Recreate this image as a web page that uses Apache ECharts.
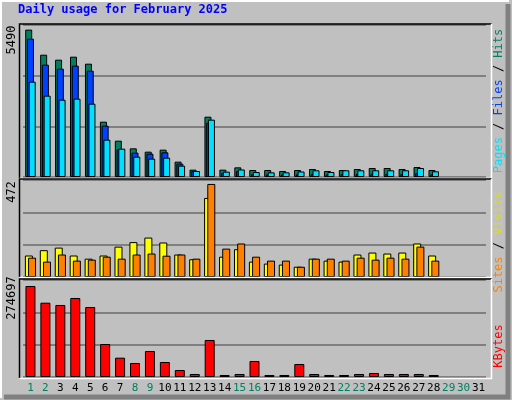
<!DOCTYPE html><html><head><meta charset="utf-8">
<script src="https://cdn.jsdelivr.net/npm/echarts@6/dist/echarts.min.js"></script>
<style>html,body{margin:0;padding:0;background:#c0c0c0}#c{width:512px;height:400px}</style></head><body><div id="c"></div>
<script>
var days=[];for(var i=1;i<=31;i++)days.push(String(i));
var weekendDays=[1,2,8,9,15,16,22,23,29,30];
var hits=[5490,4556,4370,4482,4221,2061,1353,1068,944,1018,571,273,2247,273,360,260,260,224,260,298,224,260,298,335,335,298,372,260,null,null,null];
var files=[5152,4184,4035,4147,3960,1912,1031,906,869,919,497,224,2024,149,224,100,100,90,100,110,90,110,110,120,120,110,150,100,null,null,null];
var pages=[3551,3030,2880,2918,2731,1391,1055,757,683,720,422,224,2136,199,280,186,174,174,205,250,186,250,250,250,250,250,335,212,null,null,null];
var visits=[109,136,149,109,93,109,154,177,200,175,114,90,401,103,141,78,68,63,52,93,83,78,114,124,119,124,170,109,null,null,null];
var sites=[98,78,114,83,88,103,93,114,119,108,114,93,472,144,170,103,83,83,52,93,93,83,98,88,98,93,154,83,null,null,null];
var kbytes=[274697,224300,217400,238500,211300,99600,58300,42300,78500,45300,21100,9060,111700,6040,9060,48300,6040,6040,39200,9060,6040,6040,9060,12100,9060,9060,9060,6040,null,null,null];
var maxLabels=['5490','472','274697'];
var title='Daily usage for February 2025';
var mono='DejaVu Sans Mono';
var axMax=[5662,492,292800];
var grids=[{left:23,right:26,top:25,height:152},{left:23,right:26,top:180,height:97},{left:23,right:26,top:280,height:97}];
var xA=[],yA=[];
for(var g=0;g<3;g++){
 xA.push({type:'category',gridIndex:g,data:days,boundaryGap:true,axisLine:{show:false},axisTick:{show:false},
  axisLabel:g<2?{show:false}:{show:true,margin:6,fontFamily:mono,fontSize:11,interval:0,
   color:function(v){return weekendDays.indexOf(+v)>=0?'#008060':'#000';}}});
 yA.push({type:'value',gridIndex:g,min:0,max:axMax[g],interval:axMax[g]/3,axisLabel:{show:false},axisLine:{show:false},axisTick:{show:false},
  splitLine:{show:true,lineStyle:{color:'#808080',width:2}}});
}
var bs={borderColor:'#000',borderWidth:1};
function bar(name,data,gi,color,w,gap){return {name:name,type:'bar',xAxisIndex:gi,yAxisIndex:gi,data:data,barWidth:w,barGap:gap,itemStyle:Object.assign({color:color},bs),silent:true,animation:false};}
var series=[
 bar('Hits',hits,0,'#008060',7,'-75%'),
 bar('Files',files,0,'#0040ff',7,'-75%'),
 bar('Pages',pages,0,'#00e0ff',7,'-75%'),
 bar('Visits',visits,1,'#ffff00',8,'-60%'),
 bar('Sites',sites,1,'#ff8000',8,'-60%'),
 bar('KBytes',kbytes,2,'#ff0000',10,'0%')
];
function rtext(x,y,rich,txt){return {type:'text',x:x,y:y,rotation:Math.PI/2,style:{text:txt,rich:rich,font:'12px '+mono,align:'center',verticalAlign:'middle',fill:'#000'}};}
var R={h:{fill:'#008060',fontFamily:mono,fontSize:12},f:{fill:'#0040ff',fontFamily:mono,fontSize:12},p:{fill:'#00e0ff',fontFamily:mono,fontSize:12},k:{fill:'#000',fontFamily:mono,fontSize:12},v:{fill:'#e0e000',fontFamily:mono,fontSize:12},s:{fill:'#ff8000',fontFamily:mono,fontSize:12},b:{fill:'#ff0000',fontFamily:mono,fontSize:12}};
var graphic=[
 {type:'rect',shape:{x:0,y:0,width:512,height:400},style:{fill:'#c0c0c0'},z:-10},
 {type:'polyline',shape:{points:[[1,398],[1,1],[509,1]]},style:{stroke:'#fff',lineWidth:2,fill:null},z:-9},
 {type:'polyline',shape:{points:[[4,397],[508,397],[508,4]]},style:{stroke:'#808080',lineWidth:5,fill:null},z:-9},
 {type:'text',x:18,y:10,style:{text:title,font:'bold 12px '+mono,fill:'#0000ff',verticalAlign:'middle'}},
 rtext(12,40,{},maxLabels[0]),rtext(12,192,{},maxLabels[1]),rtext(12,298,{},maxLabels[2]),
 rtext(499,101,R,'{p|Pages}{k| / }{f|Files}{k| / }{h|Hits}'),
 rtext(499,242,R,'{s|Sites}{k| / }{v|Visits}'),
 rtext(499,346,R,'{b|KBytes}')
];
[[24,178],[179,277],[279,378]].forEach(function(p){
 graphic.push({type:'polyline',shape:{points:[[19.5,p[1]],[19.5,p[0]],[491.5,p[0]]]},style:{stroke:'#000',lineWidth:1.5,fill:null},z:50});
 graphic.push({type:'polyline',shape:{points:[[19.5,p[1]+0.5],[491.5,p[1]+0.5],[491.5,p[0]]]},style:{stroke:'#fff',lineWidth:1.5,fill:null},z:50});
});
var ch=echarts.init(document.getElementById('c'));
ch.setOption({animation:false,backgroundColor:'#c0c0c0',grid:grids,xAxis:xA,yAxis:yA,series:series,graphic:graphic});
</script></body></html>
